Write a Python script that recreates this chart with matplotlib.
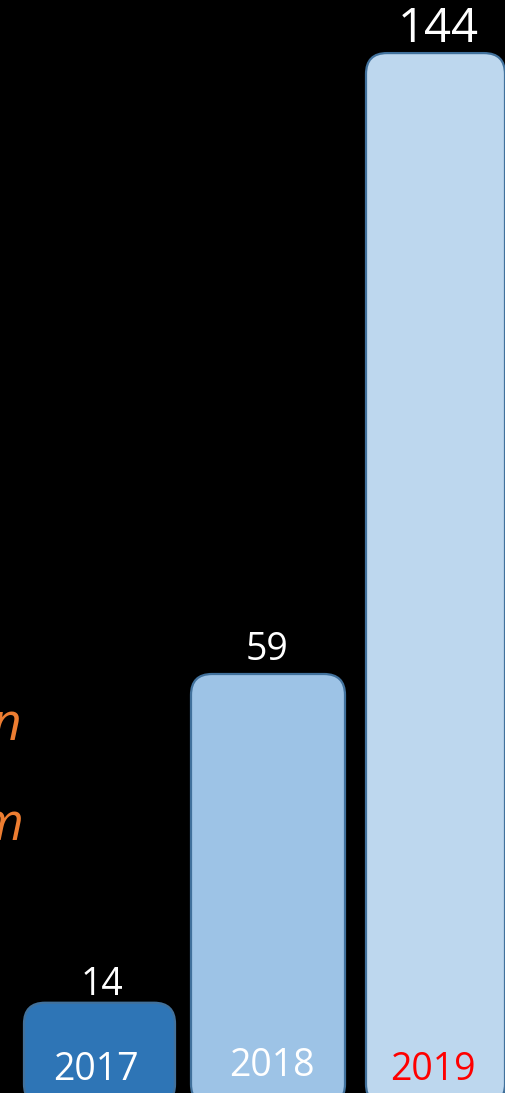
import matplotlib.pyplot as plt
from matplotlib.patches import FancyBboxPatch

# data
years = ["2017", "2018", "2019"]
values = [14, 59, 144]
bar_colors = ["#2E75B6", "#9DC3E6", "#BDD7EE"]
year_colors = ["white", "white", "red"]
value_sizes = [27, 27, 34]

# layout (x in pixel-like units, y mapping: pixel = base - scale * value)
bar_left = [24, 191, 366]
bar_width = [151, 154, 139]
value_dx = [2.5, -1, 2.5]
value_base_px = [995, 660, 42]
year_dx = [-3.5, 4, -2.5]
year_base_px = [1080, 1076, 1080]
base_px = 1105
px_per_unit = 7.305
H = 1093


def to_val(px):
    return (base_px - px) / px_per_unit


plt.rcParams['font.family'] = ['Open Sans', 'DejaVu Sans']

fig = plt.figure(figsize=(5.05, 10.93), dpi=100, facecolor="black")
ax = fig.add_axes([0, 0, 1, 1])
ax.set_facecolor("black")
ax.set_xlim(0, 505)
ax.set_ylim(to_val(H), to_val(0))
ax.axis("off")

for i in range(len(values)):
    box = FancyBboxPatch((bar_left[i], 0), bar_width[i], values[i],
                         boxstyle="round,pad=0,rounding_size=21",
                         mutation_aspect=1 / px_per_unit,
                         facecolor=bar_colors[i], edgecolor="#41719C", linewidth=1.6)
    ax.add_patch(box)
    cx = bar_left[i] + bar_width[i] / 2
    ax.text(cx + value_dx[i], to_val(value_base_px[i]), str(values[i]), color="white",
            fontsize=value_sizes[i], ha="center", va="baseline")
    ax.text(cx + year_dx[i], to_val(year_base_px[i]), years[i], color=year_colors[i],
            fontsize=27, ha="center", va="baseline")

# orange italic text cut off on the left
ax.text(21, to_val(740), "n", color="#ED7D31", fontsize=37,
        style="italic", ha="right", va="baseline")
ax.text(23, to_val(840), "m", color="#ED7D31", fontsize=37,
        style="italic", ha="right", va="baseline")

fig.savefig("out.png", dpi=100, facecolor="black")
